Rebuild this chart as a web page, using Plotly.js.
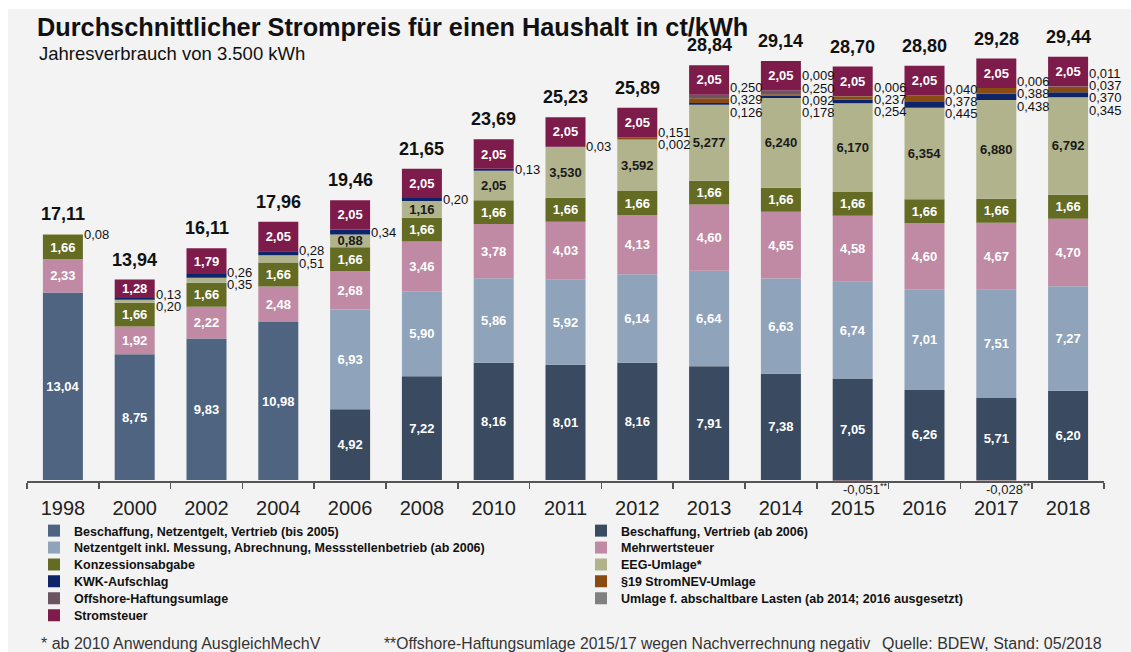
<!DOCTYPE html>
<html><head><meta charset="utf-8">
<script src="https://cdn.plot.ly/plotly-3.0.1.min.js"></script>
<style>html,body{margin:0;padding:0;background:#fff;} #chart{position:absolute;left:8px;top:9px;width:1123px;height:643px;}</style>
</head><body><div id="chart"></div>
<script>
const years = ['1998','2000','2002','2004','2006','2008','2010','2011','2012','2013','2014','2015','2016','2017','2018'];
const beschaffungBis2005 = [13.04, 8.75, 9.83, 10.98, null, null, null, null, null, null, null, null, null, null, null];
const beschaffungAb2006 = [null, null, null, null, 4.92, 7.22, 8.16, 8.01, 8.16, 7.91, 7.38, 7.05, 6.26, 5.71, 6.20];
const netzentgelt = [null, null, null, null, 6.93, 5.90, 5.86, 5.92, 6.14, 6.64, 6.63, 6.74, 7.01, 7.51, 7.27];
const mehrwertsteuer = [2.33, 1.92, 2.22, 2.48, 2.68, 3.46, 3.78, 4.03, 4.13, 4.60, 4.65, 4.58, 4.60, 4.67, 4.70];
const konzessionsabgabe = [1.66, 1.66, 1.66, 1.66, 1.66, 1.66, 1.66, 1.66, 1.66, 1.66, 1.66, 1.66, 1.66, 1.66, 1.66];
const eegUmlage = [0.08, 0.20, 0.35, 0.51, 0.88, 1.16, 2.05, 3.530, 3.592, 5.277, 6.240, 6.170, 6.354, 6.880, 6.792];
const eegDecimals = [2, 2, 2, 2, 2, 2, 2, 3, 3, 3, 3, 3, 3, 3, 3];
const kwkAufschlag = [null, 0.13, 0.26, 0.28, 0.34, 0.20, 0.13, 0.03, 0.002, 0.126, 0.178, 0.254, 0.445, 0.438, 0.345];
const kwkDecimals = [2, 2, 2, 2, 2, 2, 2, 2, 3, 3, 3, 3, 3, 3, 3];
const stromNevUmlage = [null, null, null, null, null, null, null, null, 0.151, 0.329, 0.092, 0.237, 0.378, 0.388, 0.370];
const offshoreUmlage = [null, null, null, null, null, null, null, null, null, 0.250, 0.250, -0.051, 0.040, -0.028, 0.037];
const abschaltbareLasten = [null, null, null, null, null, null, null, null, null, null, 0.009, 0.006, null, 0.006, 0.011];
const stromsteuer = [null, 1.28, 1.79, 2.05, 2.05, 2.05, 2.05, 2.05, 2.05, 2.05, 2.05, 2.05, 2.05, 2.05, 2.05];
const totals = [17.11, 13.94, 16.11, 17.96, 19.46, 21.65, 23.69, 25.23, 25.89, 28.84, 29.14, 28.70, 28.80, 29.28, 29.44];
const d2 = years.map(() => 2), d3 = years.map(() => 3);

const FONT = 'Liberation Sans, Arial, Helvetica, sans-serif';
const series = [
  {name:'Beschaffung, Netzentgelt, Vertrieb (bis 2005)', v:beschaffungBis2005, dec:d2, color:'#4e6480', tc:'#ffffff', mode:'in'},
  {name:'Beschaffung, Vertrieb (ab 2006)', v:beschaffungAb2006, dec:d2, color:'#3a4a60', tc:'#ffffff', mode:'in'},
  {name:'Netzentgelt inkl. Messung, Abrechnung, Messstellenbetrieb (ab 2006)', v:netzentgelt, dec:d2, color:'#8fa3bb', tc:'#ffffff', mode:'in'},
  {name:'Mehrwertsteuer', v:mehrwertsteuer, dec:d2, color:'#c08aa5', tc:'#ffffff', mode:'in'},
  {name:'Konzessionsabgabe', v:konzessionsabgabe, dec:d2, color:'#646b23', tc:'#ffffff', mode:'in'},
  {name:'EEG-Umlage*', v:eegUmlage, dec:eegDecimals, color:'#b0b38c', tc:'#1a1a1a', mode:'auto'},
  {name:'KWK-Aufschlag', v:kwkAufschlag, dec:kwkDecimals, color:'#0e2468', tc:'#ffffff', mode:'out'},
  {name:'§19 StromNEV-Umlage', v:stromNevUmlage, dec:d3, color:'#8a4b12', tc:'#ffffff', mode:'out'},
  {name:'Offshore-Haftungsumlage', v:offshoreUmlage, dec:d3, color:'#6b5560', tc:'#ffffff', mode:'out'},
  {name:'Umlage f. abschaltbare Lasten (ab 2014; 2016 ausgesetzt)', v:abschaltbareLasten, dec:d3, color:'#808080', tc:'#ffffff', mode:'out'},
  {name:'Stromsteuer', v:stromsteuer, dec:d2, color:'#7d1b4a', tc:'#ffffff', mode:'in'}
];
const fmt = (v, d) => v.toFixed(d).replace('.', ',');
const isInside = (s, v) => s.mode === 'in' || (s.mode === 'auto' && v >= 0.6);
const legendId = j => j === 0 ? 'legend' : 'legend' + (j + 1);

const plotW = 1077, bargap = 0.443;
const barHalf = plotW / years.length * (1 - bargap) / 2;

const traces = series.map((s, j) => ({
  type:'bar', x:years, y:s.v, name:s.name, legend:legendId(j),
  marker:{color:s.color, line:{width:0}},
  text:s.v.map((v,i) => (v != null && v > 0 && isInside(s, v)) ? fmt(v, s.dec[i]) : ''),
  textposition: s.mode === 'out' ? 'none' : 'inside',
  insidetextanchor:'middle', textangle:0,
  textfont:{family:FONT, size:13, color:s.tc, weight:'bold'},
  hoverinfo:'skip'
}));

const annotations = [];
years.forEach((yr, i) => {
  let cum = 0; const small = [];
  series.forEach(s => {
    const v = s.v[i];
    if (v == null) return;
    if (v < 0) {
      annotations.push({x:i, y:0, xref:'x', yref:'y', xanchor:'center', yanchor:'top', xshift:12, yshift:1,
        text:fmt(v, s.dec[i]) + '<sup>**</sup>', showarrow:false, font:{family:FONT, size:13, color:'#222'}});
      return;
    }
    const b = cum; cum += v;
    if (!isInside(s, v)) small.push({b, t:cum, text:fmt(v, s.dec[i])});
  });
  if (small.length) {
    const center = (small[0].b + small[small.length-1].t) / 2;
    const n = small.length;
    small.slice().reverse().forEach((it, k) => {
      annotations.push({x:i, y:center, xref:'x', yref:'y', xanchor:'left', yanchor:'middle',
        xshift:barHalf - 1, yshift:((n-1)/2 - k) * 12.3, text:it.text, showarrow:false,
        font:{family:FONT, size:13, color:'#111'}});
    });
  }
  annotations.push({x:i, y:totals[i], xref:'x', yref:'y', xanchor:'center', yanchor:'bottom', yshift:8,
    text:fmt(totals[i], 2), showarrow:false, font:{family:FONT, size:18, color:'#111', weight:'bold'}});
});

const px = x => (x - 19) / plotW, py = y => (472 - y) / 451;
annotations.push({xref:'paper', yref:'paper', x:px(29), y:py(44), xanchor:'left', yanchor:'middle', showarrow:false,
  text:'Jahresverbrauch von 3.500 kWh', font:{family:FONT, size:18.5, color:'#111'}});
annotations.push({xref:'paper', yref:'paper', x:px(31), y:py(634), xanchor:'left', yanchor:'middle', showarrow:false,
  text:'* ab 2010 Anwendung AusgleichMechV', font:{family:FONT, size:16, color:'#333'}});
annotations.push({xref:'paper', yref:'paper', x:px(374), y:py(634), xanchor:'left', yanchor:'middle', showarrow:false,
  text:'**Offshore-Haftungsumlage 2015/17 wegen Nachverrechnung negativ', font:{family:FONT, size:15.7, color:'#333'}});
annotations.push({xref:'paper', yref:'paper', x:px(1096), y:py(634), xanchor:'right', yanchor:'middle', showarrow:false,
  text:'Quelle: BDEW, Stand: 05/2018', font:{family:FONT, size:16, color:'#333'}});

const layout = {
  width:1123, height:643,
  margin:{l:19, r:27, t:21, b:171, pad:0},
  paper_bgcolor:'#f3f3f3', plot_bgcolor:'rgba(0,0,0,0)',
  barmode:'relative', bargap:bargap,
  font:{family:FONT, color:'#111'},
  title:{text:'Durchschnittlicher Strompreis für einen Haushalt in ct/kWh', xref:'container', yref:'container',
    x:29/1123, xanchor:'left', y:1 - 18/643, yanchor:'middle', font:{family:FONT, size:25.3, color:'#111', weight:'bold'}},
  xaxis:{type:'category', range:[-0.5, 14.5], showline:true, linecolor:'#555', linewidth:1.5, ticks:'outside',
    tickson:'boundaries', ticklen:6, tickwidth:1.5, tickcolor:'#555', tickfont:{family:FONT, size:20, color:'#222'},
    ticklabelstandoff:8, showgrid:false, zeroline:false, fixedrange:true},
  yaxis:{visible:false, range:[-0.07, 31.29], fixedrange:true, showgrid:false, zeroline:false},
  showlegend:true,
  uniformtext:{minsize:13, mode:'show'},
  annotations:annotations
};
// one small legend per entry so the rows keep the reference's tight 17px spacing (two columns)
series.forEach((s, j) => {
  const col = j % 2, row = Math.floor(j / 2);
  layout[legendId(j)] = {orientation:'v', xanchor:'left', yanchor:'middle', traceorder:'normal', bgcolor:'rgba(0,0,0,0)',
    x:px(col === 0 ? 26 : 573), y:py(531 - 9 + row * 16.9),
    font:{family:FONT, size:12.5, color:'#111', weight:'bold'}, itemclick:false, itemdoubleclick:false};
});
Plotly.newPlot('chart', traces, layout, {staticPlot:true, displayModeBar:false});
</script></body></html>
